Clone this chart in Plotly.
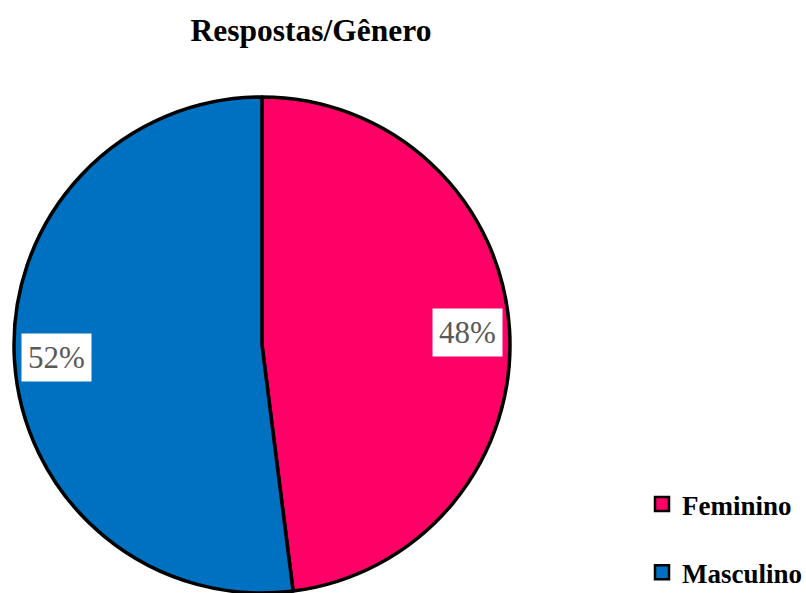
import math
import plotly.graph_objects as go

# ---- data ----
labels = ["Feminino", "Masculino"]
values = [48, 52]
colors = ["#FF0066", "#0070C0"]
title_text = "Respostas/Gênero"

# ---- layout constants ----
W, H = 806, 593
CX, CY, R = 262, 345, 248  # pie centre / radius in pixels
SERIF = "Liberation Serif"

fig = go.Figure()
fig.add_trace(go.Pie(
    labels=labels, values=values, sort=False, direction="clockwise", rotation=0,
    marker=dict(colors=colors, line=dict(color="black", width=3.5)),
    textinfo="none", showlegend=False, hoverinfo="label+percent",
    domain=dict(x=[(CX - R) / W, (CX + R) / W], y=[1 - (CY + R) / H, 1 - (CY - R) / H]),
))

# legend entries
for i, (lab, col) in enumerate(zip(labels, colors)):
    fig.add_trace(go.Scatter(
        x=[None], y=[None], mode="markers", name=lab, legendgroup=lab,
        marker=dict(symbol="square", size=14, color=col, line=dict(color="black", width=2.5)),
    ))

# percentage labels with white boxes
total = sum(values)
cum = 0
annotations = []
for v in values:
    mid = (cum + v / 2) / total * 2 * math.pi
    cum += v
    px = CX + 0.83 * R * math.sin(mid)
    py = CY - 0.83 * R * math.cos(mid)
    annotations.append(dict(
        x=px / W, y=1 - py / H, xref="paper", yref="paper", showarrow=False,
        xanchor="center", yanchor="middle",
        text=f"{round(v / total * 100)}%",
        font=dict(family=SERIF, size=31, color="#595959"),
        bgcolor="white", borderpad=6,
    ))

fig.update_layout(
    width=W, height=H, margin=dict(l=0, r=0, t=0, b=0, autoexpand=False),
    paper_bgcolor="white", plot_bgcolor="white",
    title=dict(text=f"<b>{title_text}</b>", x=311 / W, xanchor="center",
               y=1 - 30 / H, yanchor="middle", yref="container",
               font=dict(family=SERIF, size=31.5, color="black")),
    xaxis=dict(visible=False), yaxis=dict(visible=False),
    legend=dict(x=642 / W, y=1 - 480 / H, xanchor="left", yanchor="top",
                traceorder="grouped", tracegroupgap=30, itemwidth=30,
                font=dict(family=SERIF, size=27, color="black", weight="bold"),
                bgcolor="rgba(0,0,0,0)"),
    annotations=annotations,
)

fig.write_html("out.html")
